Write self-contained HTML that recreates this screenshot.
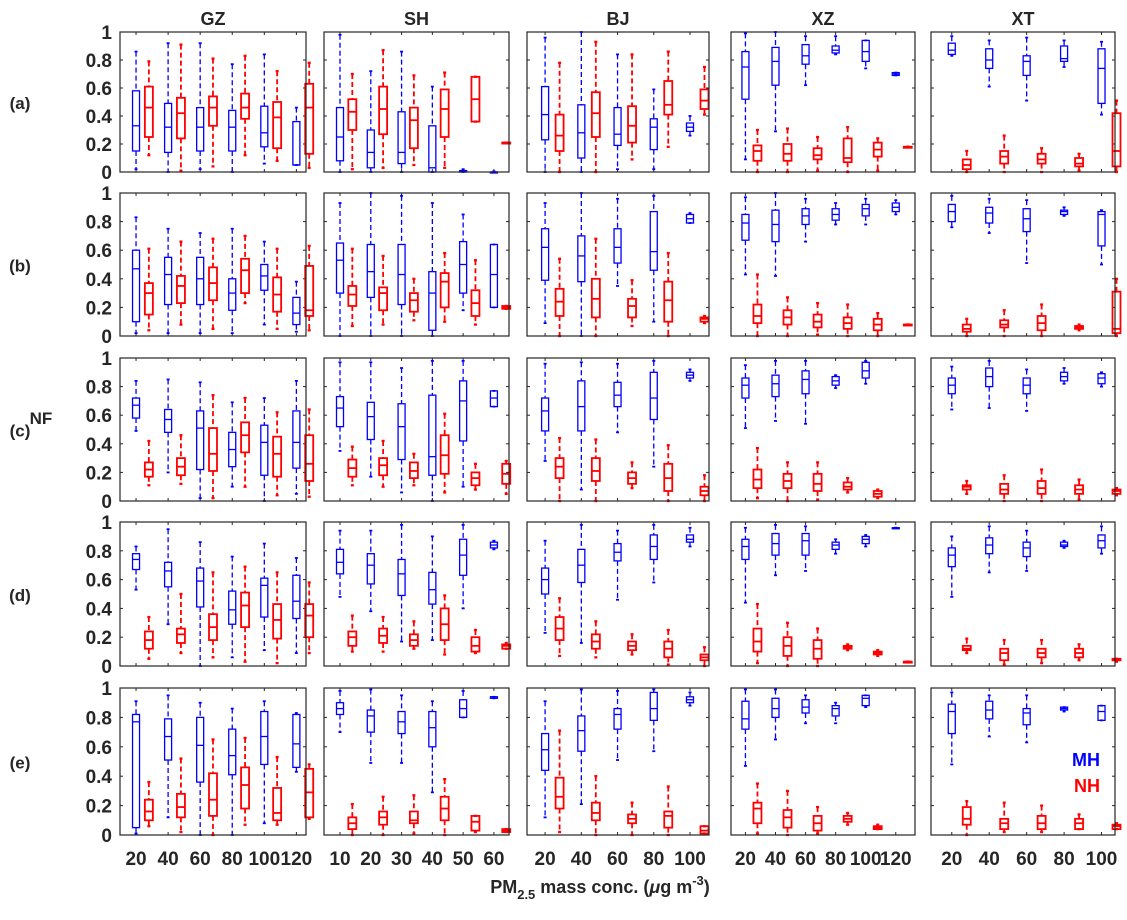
<!DOCTYPE html>
<html><head><meta charset="utf-8">
<style>
body{margin:0;background:#fff;}
svg text{font-family:"Liberation Sans",Arial,sans-serif;font-weight:bold;fill:#262626;}
</style></head>
<body>
<svg id="chart" width="1127" height="915" xmlns="http://www.w3.org/2000/svg"></svg>
<script>
// ---- data ----
const sites = ["GZ","SH","BJ","XZ","XT"];
const rowLabels = ["(a)","(b)","(c)","(d)","(e)"];
const catsGZ = [20,40,60,80,100,120];
const catsSH = [10,20,30,40,50,60];
const catsBJ = [20,40,60,80,100];
const catsXZ = [20,40,60,80,100,120];
const catsXT = [20,40,60,80,100];
const yTicks = [0,0.2,0.4,0.6,0.8,1];
const yTickLabels = ["0","0.2","0.4","0.6","0.8","1"];
// each box: [lowWhisker, q1, median, q3, highWhisker]
const mh_a = [
 [[0.02,0.15,0.33,0.58,0.86],[0,0.14,0.32,0.49,0.92],[0.02,0.15,0.32,0.46,0.92],[0,0.15,0.32,0.44,0.77],[0.06,0.18,0.28,0.47,0.84],[0.05,0.05,0.05,0.36,0.46]],
 [[0,0.08,0.25,0.46,0.98],[0,0.03,0.14,0.30,0.72],[0,0.06,0.14,0.43,0.86],[0,0,0.03,0.33,0.61],[0,0,0.01,0.01,0.02],[0,0,0,0,0.005]],
 [[0,0.23,0.41,0.61,0.96],[0,0.1,0.28,0.48,1.0],[0.02,0.19,0.27,0.46,0.84],[0.02,0.16,0.32,0.38,0.59],[0.26,0.29,0.32,0.35,0.40]],
 [[0.09,0.52,0.75,0.86,0.99],[0.29,0.62,0.79,0.89,1.0],[0.62,0.77,0.83,0.91,0.97],[0.84,0.85,0.87,0.90,0.97],[0.74,0.79,0.86,0.94,0.94],[0.69,0.69,0.70,0.71,0.71]],
 [[0.83,0.84,0.87,0.92,0.97],[0.61,0.74,0.80,0.88,0.94],[0.51,0.69,0.79,0.83,0.96],[0.75,0.79,0.81,0.90,0.94],[0.41,0.49,0.74,0.88,0.93]]
];
const nh_a = [
 [[0.12,0.25,0.46,0.61,0.79],[0.01,0.24,0.42,0.53,0.91],[0.04,0.33,0.46,0.54,0.81],[0.12,0.38,0.46,0.56,0.83],[0.08,0.17,0.39,0.50,0.72],[0.03,0.13,0.46,0.63,0.78]],
 [[0.02,0.30,0.43,0.52,0.70],[0.03,0.27,0.45,0.61,0.87],[0.05,0.17,0.37,0.46,0.69],[0.03,0.25,0.45,0.59,0.71],[0.36,0.36,0.52,0.68,0.68],[0.21,0.21,0.21,0.21,0.21]],
 [[0,0.15,0.26,0.41,0.78],[0,0.25,0.42,0.57,0.93],[0.09,0.21,0.33,0.47,0.84],[0.18,0.41,0.48,0.65,0.86],[0.41,0.45,0.51,0.59,0.75]],
 [[0,0.08,0.15,0.19,0.30],[0,0.08,0.13,0.20,0.31],[0.01,0.09,0.12,0.17,0.25],[0,0.07,0.10,0.24,0.32],[0.01,0.11,0.16,0.21,0.24],[0.18,0.18,0.18,0.18,0.18]],
 [[0,0.02,0.05,0.09,0.15],[0,0.06,0.11,0.15,0.26],[0,0.06,0.09,0.13,0.17],[0.01,0.04,0.06,0.10,0.13],[0,0.04,0.15,0.42,0.51]]
];
const mh_b = [
 [[0.02,0.1,0.47,0.6,0.83],[0.02,0.22,0.43,0.55,0.75],[0.02,0.22,0.40,0.55,0.72],[0.02,0.18,0.30,0.40,0.75],[0.08,0.32,0.42,0.50,0.66],[0.03,0.08,0.16,0.27,0.38]],
 [[0,0.30,0.53,0.65,0.93],[0,0.27,0.45,0.64,1.0],[0,0.22,0.43,0.64,0.98],[0,0.04,0.30,0.45,0.93],[0.18,0.30,0.50,0.66,0.85],[0.2,0.2,0.43,0.64,0.64]],
 [[0.09,0.39,0.62,0.75,0.93],[0,0.38,0.56,0.70,1.0],[0.35,0.51,0.62,0.75,0.96],[0.1,0.46,0.59,0.87,0.98],[0.79,0.79,0.82,0.85,0.86]],
 [[0.43,0.67,0.79,0.85,0.97],[0.42,0.66,0.78,0.88,1.0],[0.66,0.78,0.84,0.89,0.96],[0.78,0.81,0.85,0.89,0.93],[0.78,0.84,0.89,0.92,0.96],[0.85,0.87,0.90,0.93,0.95]],
 [[0.76,0.80,0.87,0.92,0.98],[0.72,0.79,0.86,0.90,0.96],[0.51,0.73,0.82,0.89,0.95],[0.84,0.85,0.87,0.88,0.90],[0.50,0.63,0.85,0.87,0.88]]
];
const nh_b = [
 [[0.04,0.15,0.30,0.37,0.61],[0.08,0.23,0.35,0.42,0.66],[0.05,0.25,0.37,0.48,0.68],[0.23,0.30,0.46,0.54,0.70],[0.05,0.17,0.29,0.41,0.61],[0.04,0.14,0.18,0.49,0.63]],
 [[0.07,0.21,0.29,0.35,0.61],[0.08,0.18,0.30,0.34,0.56],[0.11,0.17,0.25,0.30,0.40],[0.10,0.20,0.38,0.44,0.58],[0.08,0.14,0.23,0.32,0.53],[0.19,0.19,0.20,0.21,0.21]],
 [[0,0.14,0.24,0.33,0.54],[0,0.13,0.26,0.40,0.68],[0.07,0.13,0.21,0.26,0.39],[0,0.1,0.25,0.38,0.58],[0.09,0.10,0.12,0.13,0.14]],
 [[0,0.09,0.14,0.22,0.43],[0,0.08,0.13,0.18,0.27],[0.01,0.06,0.10,0.15,0.23],[0,0.05,0.09,0.13,0.22],[0,0.04,0.08,0.12,0.16],[0.08,0.08,0.08,0.08,0.08]],
 [[0,0.03,0.05,0.08,0.12],[0,0.06,0.08,0.11,0.18],[0,0.04,0.09,0.14,0.22],[0.04,0.05,0.06,0.07,0.08],[0,0.02,0.05,0.31,0.40]]
];
const mh_c = [
 [[0.49,0.58,0.67,0.72,0.84],[0.2,0.48,0.57,0.64,0.85],[0.02,0.22,0.51,0.63,0.83],[0.1,0.24,0.36,0.48,0.69],[0,0.18,0.41,0.53,0.72],[0.05,0.23,0.41,0.63,0.84]],
 [[0.35,0.52,0.65,0.73,0.97],[0.17,0.43,0.59,0.69,0.97],[0.06,0.29,0.52,0.68,0.93],[0,0.18,0.31,0.74,0.98],[0.1,0.42,0.70,0.84,0.98],[0.66,0.66,0.72,0.77,0.77]],
 [[0.28,0.49,0.63,0.72,0.96],[0.08,0.49,0.66,0.84,0.97],[0.48,0.66,0.74,0.83,0.96],[0.24,0.57,0.72,0.90,0.98],[0.84,0.86,0.88,0.90,0.92]],
 [[0.51,0.72,0.81,0.86,0.95],[0.56,0.73,0.82,0.88,0.98],[0.54,0.75,0.85,0.91,0.98],[0.79,0.81,0.84,0.87,0.88],[0.82,0.86,0.91,0.97,0.98]],
 [[0.64,0.75,0.81,0.86,0.94],[0.65,0.80,0.87,0.93,0.98],[0.63,0.75,0.81,0.86,0.92],[0.82,0.84,0.87,0.90,0.93],[0.80,0.82,0.86,0.89,0.90]]
];
const nh_c = [
 [[0.11,0.17,0.22,0.27,0.42],[0.12,0.18,0.24,0.30,0.46],[0.02,0.21,0.33,0.51,0.74],[0.10,0.34,0.46,0.55,0.72],[0.04,0.17,0.33,0.45,0.62],[0.03,0.14,0.26,0.46,0.64]],
 [[0.11,0.17,0.23,0.29,0.38],[0.10,0.18,0.25,0.30,0.42],[0.11,0.16,0.21,0.27,0.33],[0.06,0.19,0.32,0.46,0.61],[0.08,0.11,0.16,0.20,0.26],[0.05,0.12,0.19,0.26,0.28]],
 [[0,0.16,0.24,0.30,0.44],[0,0.14,0.21,0.30,0.43],[0.09,0.12,0.16,0.20,0.27],[0,0.07,0.16,0.26,0.39],[0,0.04,0.07,0.10,0.18]],
 [[0.02,0.09,0.15,0.22,0.37],[0,0.09,0.14,0.19,0.27],[0.01,0.07,0.12,0.19,0.27],[0.06,0.08,0.10,0.13,0.16],[0.02,0.03,0.05,0.07,0.08]],
 [[0.05,0.08,0.10,0.11,0.14],[0,0.05,0.08,0.12,0.18],[0,0.05,0.09,0.14,0.22],[0.01,0.05,0.08,0.11,0.15],[0.04,0.05,0.07,0.08,0.09]]
];
const mh_d = [
 [[0.53,0.67,0.74,0.78,0.83],[0.29,0.55,0.66,0.72,0.95],[0,0.41,0.59,0.68,0.86],[0.06,0.29,0.39,0.52,0.76],[0.11,0.34,0.56,0.61,0.85],[0.09,0.33,0.45,0.63,0.75]],
 [[0.48,0.64,0.72,0.81,0.94],[0.38,0.57,0.70,0.78,0.94],[0.17,0.49,0.64,0.74,0.98],[0.18,0.43,0.53,0.65,0.90],[0.4,0.63,0.77,0.88,0.98],[0.81,0.82,0.84,0.86,0.87]],
 [[0.23,0.50,0.60,0.68,0.87],[0.16,0.58,0.70,0.81,0.98],[0.46,0.73,0.79,0.85,0.94],[0.58,0.74,0.83,0.91,0.98],[0.83,0.86,0.88,0.91,0.96]],
 [[0.44,0.74,0.83,0.88,0.96],[0.63,0.77,0.85,0.92,0.98],[0.66,0.77,0.87,0.92,0.97],[0.78,0.81,0.84,0.86,0.88],[0.83,0.85,0.88,0.90,0.91],[0.96,0.96,0.96,0.96,0.96]],
 [[0.48,0.69,0.77,0.82,0.90],[0.65,0.78,0.84,0.89,0.97],[0.66,0.76,0.82,0.86,0.94],[0.82,0.83,0.84,0.86,0.87],[0.78,0.82,0.87,0.91,0.97]]
];
const nh_d = [
 [[0.05,0.12,0.18,0.24,0.34],[0.09,0.16,0.22,0.26,0.50],[0.06,0.18,0.27,0.36,0.65],[0.03,0.27,0.42,0.51,0.69],[0.02,0.19,0.32,0.43,0.65],[0.09,0.20,0.35,0.43,0.58]],
 [[0.10,0.14,0.20,0.24,0.35],[0.10,0.16,0.21,0.26,0.34],[0.12,0.14,0.18,0.22,0.31],[0.08,0.18,0.29,0.40,0.49],[0.09,0.10,0.14,0.20,0.25],[0.12,0.12,0.14,0.15,0.16]],
 [[0.07,0.18,0.26,0.34,0.47],[0.06,0.12,0.17,0.22,0.31],[0.08,0.11,0.14,0.17,0.22],[0.01,0.06,0.12,0.17,0.25],[0,0.04,0.06,0.08,0.13]],
 [[0.02,0.10,0.17,0.26,0.43],[0,0.07,0.14,0.20,0.30],[0,0.05,0.12,0.18,0.26],[0.11,0.12,0.13,0.14,0.15],[0.07,0.08,0.09,0.10,0.11],[0.03,0.03,0.03,0.03,0.03]],
 [[0.09,0.11,0.12,0.14,0.19],[0.01,0.04,0.09,0.12,0.18],[0.02,0.06,0.09,0.12,0.18],[0.04,0.06,0.09,0.12,0.15],[0.03,0.04,0.04,0.05,0.05]]
];
const mh_e = [
 [[0.01,0.05,0.77,0.82,0.91],[0.12,0.51,0.67,0.79,0.95],[0,0.36,0.61,0.80,0.90],[0,0.41,0.54,0.72,0.86],[0.08,0.48,0.67,0.84,0.91],[0.43,0.46,0.62,0.82,0.83]],
 [[0.70,0.82,0.86,0.90,0.98],[0.49,0.70,0.81,0.85,0.99],[0.49,0.69,0.77,0.84,0.95],[0.29,0.60,0.73,0.84,0.91],[0.80,0.80,0.86,0.92,0.98],[0.93,0.93,0.94,0.94,0.94]],
 [[0.12,0.44,0.58,0.69,0.91],[0.21,0.57,0.71,0.81,0.99],[0.51,0.72,0.82,0.86,0.98],[0.57,0.78,0.86,0.97,0.99],[0.88,0.90,0.92,0.94,0.97]],
 [[0.47,0.72,0.79,0.91,0.99],[0.65,0.80,0.86,0.93,0.99],[0.76,0.83,0.87,0.92,0.95],[0.76,0.81,0.86,0.88,0.90],[0.87,0.88,0.93,0.95,0.95]],
 [[0.48,0.69,0.84,0.89,0.97],[0.67,0.79,0.85,0.91,0.95],[0.63,0.75,0.83,0.86,0.95],[0.84,0.85,0.86,0.87,0.87],[0.78,0.78,0.84,0.88,0.88]]
];
const nh_e = [
 [[0.06,0.10,0.16,0.24,0.36],[0.02,0.12,0.19,0.28,0.52],[0,0.13,0.24,0.42,0.65],[0.07,0.18,0.34,0.46,0.66],[0.07,0.10,0.15,0.32,0.53],[0.11,0.12,0.29,0.45,0.48]],
 [[0,0.04,0.08,0.12,0.21],[0,0.07,0.12,0.16,0.26],[0.01,0.08,0.10,0.16,0.27],[0,0.10,0.18,0.26,0.38],[0.02,0.03,0.09,0.13,0.13],[0.02,0.02,0.03,0.04,0.04]],
 [[0.02,0.18,0.26,0.39,0.71],[0,0.10,0.15,0.22,0.40],[0,0.08,0.11,0.14,0.22],[0,0.05,0.13,0.16,0.33],[0.01,0.01,0.03,0.06,0.06]],
 [[0.01,0.08,0.18,0.22,0.35],[0,0.05,0.12,0.17,0.30],[0.01,0.03,0.08,0.13,0.19],[0.07,0.09,0.11,0.13,0.15],[0.04,0.04,0.05,0.06,0.07]],
 [[0,0.07,0.11,0.19,0.23],[0.02,0.04,0.08,0.11,0.22],[0.02,0.04,0.08,0.13,0.20],[0.04,0.04,0.08,0.11,0.14],[0.04,0.04,0.06,0.07,0.08]]
];

// ---- layout ----
const MH_ALL=[mh_a,mh_b,mh_c,mh_d,mh_e], NH_ALL=[nh_a,nh_b,nh_c,nh_d,nh_e];
const CATS=[catsGZ,catsSH,catsBJ,catsXZ,catsXT];
const colX=[[120,306],[324,509],[527,709],[731,915],[931,1115]];
const rowY=[[32,172],[193,336],[358,501],[522,666],[688,835]];
const xlims=[[10,126],[4.8,64.9],[10,110.5],[10.4,132.8],[8.9,107.2]];
const redOff=[8,4,8,8,8];
const svg=document.getElementById('chart');
const NS='http://www.w3.org/2000/svg';
function mk(tag,attrs,parent){const e=document.createElementNS(NS,tag);for(const k in attrs)e.setAttribute(k,attrs[k]);(parent||svg).appendChild(e);return e;}

for(let r=0;r<5;r++){
  const [yt,yb]=rowY[r];
  const sy=v=>yb-(yb-yt)*v;
  const rl=mk('text',{x:20,y:(yt+yb)/2+7,'font-size':17,'text-anchor':'middle'});
  rl.textContent=rowLabels[r];
  
  
  for(let c=0;c<5;c++){
    const [xl,xr]=colX[c];
    const [x0,x1]=xlims[c];
    const sx=v=>xl+(xr-xl)*(v-x0)/(x1-x0);
    const g=mk('g',{});
    
    
    yTicks.forEach((t,i)=>{
      if(t>0&&t<1){
        mk('line',{x1:xl,x2:xl+3,y1:sy(t),y2:sy(t),stroke:'#262626','stroke-width':1},g);
        mk('line',{x1:xr,x2:xr-3,y1:sy(t),y2:sy(t),stroke:'#262626','stroke-width':1},g);
      }
      if(c===0){
        const tl=mk('text',{x:xl-8,y:sy(t)+7,'font-size':19,'text-anchor':'end'},g);
        tl.textContent=yTickLabels[i];
        
        
      }
    });
    CATS[c].forEach(v=>{
      mk('line',{x1:sx(v),x2:sx(v),y1:yb,y2:yb-3,stroke:'#262626','stroke-width':1},g);
      mk('line',{x1:sx(v),x2:sx(v),y1:yt,y2:yt+3,stroke:'#262626','stroke-width':1},g);
      if(r===4){
        const xt=mk('text',{x:sx(v),y:865,'font-size':19,'text-anchor':'middle'},g);
        xt.textContent=String(v);
        
        
      }
    });
    const drawBox=(b,xc,color,hw,sw,name)=>{
      const bg=mk('g',{},g);
      
      
      mk('line',{x1:xc,x2:xc,y1:sy(b[4]),y2:sy(b[3]),stroke:color,'stroke-width':sw,'stroke-dasharray':'5 3'},bg);
      mk('line',{x1:xc,x2:xc,y1:sy(b[1]),y2:sy(b[0]),stroke:color,'stroke-width':sw,'stroke-dasharray':'5 3'},bg);
      mk('line',{x1:xc-1.5,x2:xc+1.5,y1:sy(b[4]),y2:sy(b[4]),stroke:color,'stroke-width':sw+0.5},bg);
      mk('line',{x1:xc-1.5,x2:xc+1.5,y1:sy(b[0]),y2:sy(b[0]),stroke:color,'stroke-width':sw+0.5},bg);
      mk('rect',{x:xc-hw,y:sy(b[3]),width:2*hw,height:Math.max(1,sy(b[1])-sy(b[3])),fill:'none',stroke:color,'stroke-width':sw},bg);
      mk('line',{x1:xc-hw,x2:xc+hw,y1:sy(b[2]),y2:sy(b[2]),stroke:color,'stroke-width':sw},bg);
    };
    MH_ALL[r][c].forEach((b,i)=>drawBox(b,sx(CATS[c][i]),'#0000ff',3.5,1.3,'mh-box-'+CATS[c][i]));
    NH_ALL[r][c].forEach((b,i)=>drawBox(b,sx(CATS[c][i]+redOff[c]),'#ff0000',4,1.8,'nh-box-'+CATS[c][i]));
    mk('rect',{x:xl,y:yt,width:xr-xl,height:yb-yt,fill:'none',stroke:'#262626','stroke-width':1.2},g);
    if(r===0){
      const st=mk('text',{x:(xl+xr)/2,y:25,'font-size':18,'text-anchor':'middle',fill:'#000'});
      st.textContent=sites[c];
      
      
    }
  }
}
</script>
<svg style="position:absolute;left:0;top:0" width="1127" height="915">
<text x="41" y="424" font-size="17" text-anchor="middle" style="font-family:'Liberation Sans',sans-serif;font-weight:bold;fill:#262626">NF</text>
<text x="600" y="893" font-size="18" text-anchor="middle" style="font-family:'Liberation Sans',sans-serif;font-weight:bold;fill:#262626">PM<tspan font-size="13" dy="6">2.5</tspan><tspan dy="-6"> mass conc. (</tspan><tspan font-style="italic">μ</tspan>g m<tspan font-size="13" dy="-8">-3</tspan><tspan dy="8">)</tspan></text>
<text x="1100" y="766" font-size="18" text-anchor="end" style="font-family:'Liberation Sans',sans-serif;font-weight:bold;fill:#0000ff">MH</text>
<text x="1100" y="792" font-size="18" text-anchor="end" style="font-family:'Liberation Sans',sans-serif;font-weight:bold;fill:#ff0000">NH</text>
</svg>
</body></html>
